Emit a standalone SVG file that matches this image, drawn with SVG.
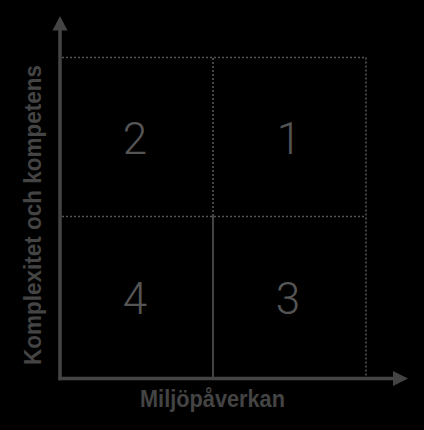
<svg xmlns="http://www.w3.org/2000/svg" width="424" height="430" viewBox="0 0 424 430">
<style>
.axis{stroke:#444;stroke-width:3.5;fill:none}
.head{fill:#444}
.dot{stroke:#555;stroke-width:1.6;stroke-dasharray:2 2;fill:none}
.solid{stroke:#555;stroke-width:1.6;fill:none}
.num{font-family:Roboto,"Liberation Sans",sans-serif;font-weight:300;font-size:44px;fill:#555;text-anchor:middle}
.lbl{font-family:"Liberation Sans",Arial,sans-serif;font-weight:bold;font-size:23.5px;fill:#444;text-anchor:middle}
</style>
<rect width="424" height="430" fill="#000"/>
<g id="grid">
<line class="dot" x1="62" y1="57.5" x2="366" y2="57.5"/>
<line class="dot" x1="366" y1="57.5" x2="366" y2="377"/>
<line class="dot" x1="62" y1="216.5" x2="366" y2="216.5"/>
<line class="dot" x1="213" y1="58" x2="213" y2="216"/>
<line class="solid" x1="213" y1="216" x2="213" y2="377"/>
</g>
<g id="connectors">
<line class="axis" x1="60" y1="380.3" x2="60" y2="29"/>
<polygon class="head" points="60,16 52.5,30.5 67.5,30.5"/>
<line class="axis" x1="58.3" y1="378.5" x2="394" y2="378.5"/>
<polygon class="head" points="408,378.5 393,371 393,386"/>
</g>
<g id="q2"><text class="num" x="135" y="154">2</text></g>
<g id="q1"><text class="num" x="289" y="154">1</text></g>
<g id="q4"><text class="num" x="135" y="314">4</text></g>
<g id="q3"><text class="num" x="288" y="314">3</text></g>
<g id="xlabel"><text class="lbl" x="212.5" y="407" textLength="145" lengthAdjust="spacingAndGlyphs">Miljöpåverkan</text></g>
<g id="ylabel"><text class="lbl" transform="translate(41,215) rotate(-90)" x="0" y="0" textLength="300" lengthAdjust="spacingAndGlyphs">Komplexitet och kompetens</text></g>
</svg>
